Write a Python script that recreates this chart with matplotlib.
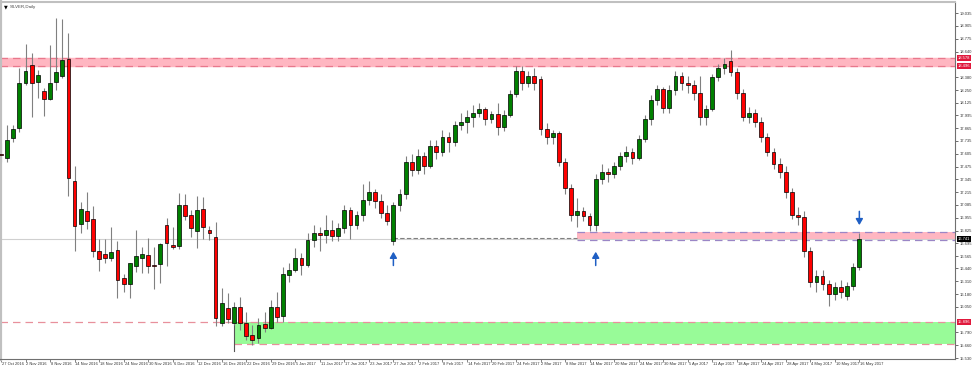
import matplotlib
matplotlib.use("Agg")
import matplotlib.pyplot as plt
import matplotlib.transforms as mtransforms
import numpy as np

plt.rcParams["font.family"] = ["Liberation Sans", "DejaVu Sans"]

# --- data: daily silver candles, 27 Oct 2016 .. 16 May 2017 ---
opens = [
    17.60, 17.562, 17.768, 17.863, 18.327, 18.507, 18.337, 18.242, 18.161, 18.337,
    18.395, 18.568, 17.328, 16.888, 17.026, 16.942, 16.617, 16.583, 16.549, 16.627,
    16.346, 16.278, 16.464, 16.549, 16.576, 16.468, 16.485, 16.881, 16.678, 16.671,
    17.084, 16.983, 16.823, 17.041, 16.830, 16.756, 15.882, 16.035, 15.888, 16.051,
    15.882, 15.76, 15.73, 15.88, 15.84, 16.05, 15.96, 16.37, 16.42, 16.55,
    16.48, 16.73, 16.80, 16.78, 16.83, 16.77, 16.85, 17.03, 16.88, 16.98,
    17.14, 17.22, 17.13, 17.00, 16.72, 17.08, 17.20, 17.52, 17.44, 17.58,
    17.48, 17.68, 17.62, 17.78, 17.72, 17.90, 17.93, 17.98, 18.02, 18.06,
    17.96, 18.01, 17.88, 18.00, 18.21, 18.45, 18.32, 18.40, 18.36, 17.86,
    17.78, 17.82, 17.52, 17.26, 16.98, 17.02, 16.97, 16.88, 17.35, 17.42,
    17.40, 17.48, 17.58, 17.62, 17.56, 17.76, 17.96, 18.15, 18.26, 18.07,
    18.25, 18.40, 18.32, 18.30, 18.22, 17.98, 18.06, 18.38, 18.48, 18.55,
    18.44, 18.22, 17.98, 18.02, 17.93, 17.78, 17.62, 17.50, 17.42, 17.22,
    16.98, 16.96, 16.62, 16.30, 16.36, 16.28, 16.18, 16.25, 16.16, 16.26,
    16.45,
]
highs = [
    17.714, 17.897, 17.897, 18.473, 18.720, 18.625, 18.456, 18.270, 18.710, 18.981,
    18.971, 18.829, 17.484, 17.111, 17.213, 17.074, 16.739, 16.739, 16.864, 16.718,
    16.380, 16.500, 16.830, 16.661, 16.746, 16.654, 16.700, 16.955, 16.864, 17.203,
    17.196, 17.033, 17.176, 17.169, 16.871, 16.915, 16.244, 16.187, 16.100, 16.152,
    16.000, 15.87, 15.94, 16.00, 16.12, 16.20, 16.45, 16.50, 16.65, 16.60,
    16.80, 16.88, 16.86, 16.98, 16.93, 16.90, 17.08, 17.06, 17.02, 17.30,
    17.33, 17.25, 17.20, 17.08, 17.12, 17.25, 17.58, 17.60, 17.65, 17.62,
    17.75, 17.74, 17.85, 17.83, 17.94, 18.02, 18.05, 18.10, 18.12, 18.08,
    18.04, 18.12, 18.05, 18.25, 18.50, 18.50, 18.45, 18.48, 18.40, 17.92,
    17.85, 17.84, 17.56, 17.30, 17.16, 17.06, 17.00, 17.40, 17.50, 17.46,
    17.52, 17.62, 17.68, 17.66, 17.80, 18.00, 18.20, 18.30, 18.28, 18.30,
    18.45, 18.44, 18.40, 18.35, 18.40, 18.10, 18.42, 18.52, 18.58, 18.66,
    18.48, 18.26, 18.08, 18.06, 17.98, 17.82, 17.66, 17.56, 17.48, 17.26,
    17.06, 17.02, 16.66, 16.42, 16.42, 16.32, 16.30, 16.32, 16.30, 16.50,
    16.80,
]
lows = [
    17.521, 17.521, 17.727, 17.829, 18.300, 17.981, 18.168, 17.988, 18.151, 18.253,
    18.371, 17.176, 16.620, 16.803, 16.840, 16.559, 16.417, 16.498, 16.515, 16.142,
    16.197, 16.142, 16.400, 16.390, 16.390, 16.228, 16.295, 16.467, 16.640, 16.634,
    16.932, 16.762, 16.644, 16.739, 16.729, 15.855, 15.855, 15.888, 15.865, 15.814,
    15.713, 15.66, 15.68, 15.79, 15.82, 15.90, 15.90, 16.30, 16.40, 16.37,
    16.45, 16.66, 16.62, 16.70, 16.72, 16.72, 16.80, 16.74, 16.84, 16.92,
    17.08, 17.05, 16.95, 16.88, 16.68, 17.02, 17.15, 17.38, 17.40, 17.40,
    17.46, 17.55, 17.58, 17.62, 17.68, 17.85, 17.82, 17.88, 17.98, 17.90,
    17.92, 17.80, 17.84, 17.98, 18.18, 18.25, 18.28, 18.25, 17.80, 17.70,
    17.70, 17.48, 17.20, 16.92, 16.86, 16.92, 16.82, 16.82, 17.30, 17.32,
    17.36, 17.44, 17.52, 17.50, 17.54, 17.72, 17.90, 18.10, 18.02, 18.02,
    18.20, 18.25, 18.22, 18.15, 17.90, 17.90, 18.04, 18.34, 18.42, 18.40,
    18.16, 17.94, 17.92, 17.88, 17.72, 17.58, 17.45, 17.36, 17.16, 16.94,
    16.88, 16.56, 16.25, 16.20, 16.22, 16.06, 16.12, 16.14, 16.12, 16.22,
    16.42,
]
closes = [
    17.59, 17.745, 17.853, 18.327, 18.446, 18.327, 18.405, 18.161, 18.327, 18.432,
    18.557, 17.355, 16.874, 17.043, 16.925, 16.620, 16.536, 16.549, 16.610, 16.322,
    16.282, 16.492, 16.566, 16.583, 16.467, 16.465, 16.688, 16.701, 16.661, 17.084,
    16.972, 16.847, 17.033, 16.858, 16.797, 15.933, 16.086, 15.923, 16.045, 15.882,
    15.753, 15.71, 15.87, 15.84, 16.05, 15.95, 16.38, 16.42, 16.55, 16.48,
    16.73, 16.80, 16.78, 16.83, 16.77, 16.85, 17.03, 16.88, 16.98, 17.14,
    17.22, 17.13, 17.00, 16.92, 17.08, 17.20, 17.52, 17.44, 17.58, 17.48,
    17.68, 17.62, 17.78, 17.72, 17.90, 17.93, 17.98, 18.02, 18.06, 17.96,
    18.01, 17.88, 18.00, 18.21, 18.45, 18.32, 18.40, 18.32, 17.86, 17.78,
    17.82, 17.52, 17.26, 16.98, 17.02, 16.97, 16.88, 17.35, 17.42, 17.40,
    17.48, 17.58, 17.62, 17.56, 17.76, 17.96, 18.15, 18.26, 18.07, 18.25,
    18.40, 18.32, 18.30, 18.22, 17.98, 18.06, 18.38, 18.48, 18.52, 18.44,
    18.22, 17.98, 18.02, 17.93, 17.78, 17.62, 17.50, 17.42, 17.22, 16.98,
    16.96, 16.62, 16.30, 16.36, 16.28, 16.18, 16.25, 16.20, 16.26, 16.45,
    16.74,
]

date_labels = [
    "27 Oct 2016", "2 Nov 2016", "8 Nov 2016", "14 Nov 2016", "18 Nov 2016",
    "24 Nov 2016", "30 Nov 2016", "6 Dec 2016", "12 Dec 2016", "16 Dec 2016",
    "22 Dec 2016", "29 Dec 2016", "5 Jan 2017", "11 Jan 2017", "17 Jan 2017",
    "23 Jan 2017", "27 Jan 2017", "2 Feb 2017", "8 Feb 2017", "14 Feb 2017",
    "20 Feb 2017", "24 Feb 2017", "2 Mar 2017", "8 Mar 2017", "14 Mar 2017",
    "20 Mar 2017", "24 Mar 2017", "30 Mar 2017", "5 Apr 2017", "11 Apr 2017",
    "18 Apr 2017", "24 Apr 2017", "28 Apr 2017", "4 May 2017", "10 May 2017",
    "16 May 2017",
]
date_label_bars = list(range(0, 141, 4))

price_ticks = [
    19.035, 18.905, 18.775, 18.640, 18.380, 18.250, 18.125, 17.995, 17.865,
    17.735, 17.605, 17.475, 17.345, 17.215, 17.085, 16.955, 16.825, 16.695,
    16.565, 16.440, 16.310, 16.180, 16.050, 15.790, 15.660, 15.530,
]

# zones (price levels)
top_zone = (18.496, 18.578)
mid_zone = (16.729, 16.810)
low_zone = (15.672, 15.896)
bid_price = 16.741
pivot_level = 16.749

# --- plot ---
fig = plt.figure(figsize=(9.8, 3.68), dpi=100)
ax = fig.add_axes([0.0, 9 / 368, 955 / 980, 357 / 368])

n = len(opens)
x = np.arange(n)
o = np.array(opens)
h = np.array(highs)
l = np.array(lows)
c = np.array(closes)

ax.set_xlim(-0.16, 155.6)
ax.set_ylim(15.52, 19.147)

# zones
ax.axhspan(top_zone[0], top_zone[1], color="#ffb6c1", zorder=0)
for lvl in top_zone:
    ax.axhline(lvl, color="#e8788c", lw=0.9, ls=(0, (6, 4)), zorder=1)

ax.fill_between([94, 155.6], mid_zone[0], mid_zone[1], color="#ffb6c1", lw=0, zorder=0)
for lvl in mid_zone:
    ax.plot([94, 155.6], [lvl, lvl], color="#9a86c6", lw=0.9, ls=(0, (6, 4)), zorder=1)

ax.fill_between([38, 155.6], low_zone[0], low_zone[1], color="#98fb98", lw=0, zorder=0)
ax.axhline(low_zone[1], color="#e8909c", lw=0.9, ls=(0, (6, 4)), zorder=1)
ax.plot([38, 155.6], [low_zone[0], low_zone[0]], color="#e8909c", lw=0.9,
        ls=(0, (6, 4)), zorder=1)
ax.plot([38, 38], [15.60, low_zone[1]], color="#555555", lw=0.8, zorder=1)

# bid line and pivot line
ax.axhline(bid_price, color="#d0d0d0", lw=0.8, zorder=0.5)
ax.plot([64, 94], [pivot_level, pivot_level], color="#808080", lw=0.8,
        ls=(0, (4, 2)), zorder=1)

# candles
up = c >= o
ax.vlines(x, l, h, color="#808080", lw=0.8, zorder=2)
body_bottom = np.minimum(o, c)
body_height = np.maximum(np.abs(c - o), 0.006)
ax.bar(x[up], body_height[up], bottom=body_bottom[up], width=0.62,
       color="#008000", edgecolor="black", lw=0.5, zorder=3)
ax.bar(x[~up], body_height[~up], bottom=body_bottom[~up], width=0.62,
       color="#ff0000", edgecolor="black", lw=0.5, zorder=3)

# arrows
arrow_kw = dict(arrowstyle="-|>,head_width=0.35,head_length=0.6", color="#1f5fc4",
                lw=1.1, mutation_scale=6, shrinkA=0, shrinkB=0)
ax.annotate("", xy=(64, 16.61), xytext=(64, 16.47), arrowprops=arrow_kw)
ax.annotate("", xy=(97, 16.61), xytext=(97, 16.47), arrowprops=arrow_kw)
ax.annotate("", xy=(140, 16.88), xytext=(140, 17.02), arrowprops=arrow_kw)

# axes styling
for side in ["left", "top"]:
    ax.spines[side].set_color("#c0c0c0")
ax.spines["left"].set_linewidth(3)
ax.spines["top"].set_linewidth(1.5)
ax.spines["right"].set_color("#707070")
ax.spines["bottom"].set_color("#707070")

ax.yaxis.tick_right()
ax.set_yticks(price_ticks)
ax.set_yticklabels([f"{v:.3f}" for v in price_ticks])
ax.tick_params(axis="y", labelsize=3.0, length=2, width=0.5, pad=1.5, colors="#333333")

ax.set_xticks(date_label_bars)
ax.set_xticklabels([])
ax.tick_params(axis="x", length=2.5, width=0.5, colors="#555555")
trans = mtransforms.blended_transform_factory(ax.transData, ax.transAxes)
for b, lbl in zip(date_label_bars, date_labels):
    ax.text(b + 0.15, -0.008, lbl, transform=trans, fontsize=2.9, color="#333333",
            ha="left", va="top")

# price labels on the right axis
rtrans = mtransforms.blended_transform_factory(ax.transAxes, ax.transData)
for lvl, bg in [(top_zone[1], "#e0193c"), (top_zone[0], "#e0193c"),
                (low_zone[1], "#e0193c"), (bid_price, "black")]:
    ax.text(1.003, lvl, f"{lvl:.3f}", transform=rtrans, fontsize=3.0, color="white",
            ha="left", va="center", zorder=5,
            bbox=dict(boxstyle="square,pad=0.25", fc=bg, ec="none"))

# title
fig.text(4 / 980, 1 - 7 / 368, "\u25BC", fontsize=3.5, color="black", va="center",
         family="DejaVu Sans")
fig.text(10 / 980, 1 - 7 / 368, "SILVER,Daily", fontsize=3.2, color="#444444", va="center")

fig.savefig("out.png", dpi=100)
